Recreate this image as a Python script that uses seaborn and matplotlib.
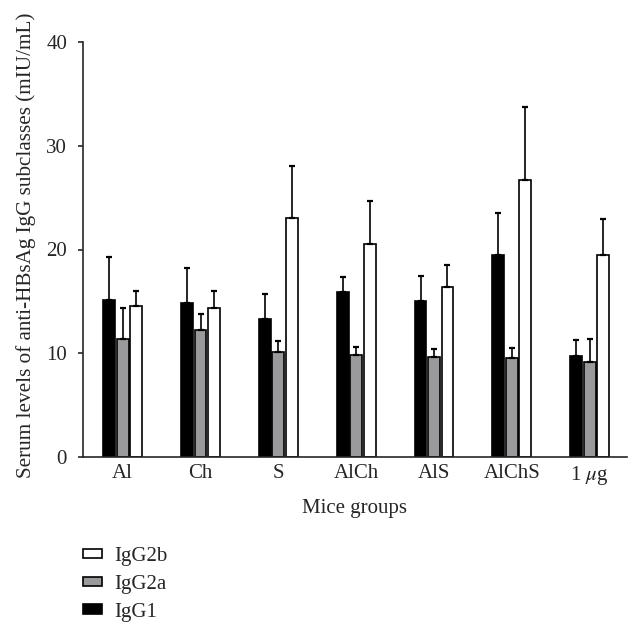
import numpy as np
import pandas as pd
import matplotlib
matplotlib.use("Agg")
import matplotlib.pyplot as plt
import seaborn as sns
from matplotlib.patches import Patch

# data (mean and upper error bar end)
groups = ["Al", "Ch", "S", "AlCh", "AlS", "AlChS", "1 $\\mu$g"]
subclasses = ["IgG1", "IgG2a", "IgG2b"]

igg1 = [15.1, 14.8, 13.3, 15.9, 15.0, 19.5, 9.7]
igg1_top = [19.3, 18.2, 15.7, 17.3, 17.4, 23.5, 11.3]
igg2a = [11.4, 12.2, 10.1, 9.8, 9.6, 9.5, 9.1]
igg2a_top = [14.4, 13.8, 11.2, 10.6, 10.4, 10.5, 11.4]
igg2b = [14.5, 14.4, 23.0, 20.5, 16.4, 26.7, 19.5]
igg2b_top = [16.0, 16.0, 28.1, 24.7, 18.5, 33.8, 22.9]

colors = {"IgG1": "#000000", "IgG2a": "#9a9a9c", "IgG2b": "#ffffff"}

rows = []
for vals, tops, name in [(igg1, igg1_top, "IgG1"), (igg2a, igg2a_top, "IgG2a"), (igg2b, igg2b_top, "IgG2b")]:
    for g, v, t in zip(groups, vals, tops):
        rows.append({"group": g, "subclass": name, "value": v, "top": t})
df = pd.DataFrame(rows)

sns.set_style("ticks")
plt.rcParams["font.family"] = ["Liberation Serif", "DejaVu Serif"]
plt.rcParams["mathtext.fontset"] = "stix"
fs = 15

fig = plt.figure(figsize=(6.42, 6.38), dpi=100)
ax = fig.add_axes([83 / 642, 1 - 456.7 / 638, (627 - 83) / 642, (456.7 - 42.3) / 638])

sns.barplot(data=df, x="group", y="value", hue="subclass", order=groups,
            hue_order=subclasses, palette=colors, errorbar=None,
            width=0.52, gap=0.12, edgecolor="black", linewidth=1.2,
            legend=False, ax=ax)

# upper error bars only
for container, name in zip(ax.containers, subclasses):
    sub = df[df["subclass"] == name].set_index("group").loc[groups]
    xs = [p.get_x() + p.get_width() / 2 for p in container.patches]
    err = (sub["top"] - sub["value"]).values
    ax.errorbar(xs, sub["value"].values, yerr=[np.zeros_like(err), err],
                fmt="none", ecolor="black", elinewidth=1.2, capsize=2,
                capthick=1.6, zorder=1)

ax.set_ylim(0, 40)
ax.set_yticks([0, 10, 20, 30, 40])
ax.set_xlim(-0.51, 6.48)
sns.despine(ax=ax)
ax.spines["left"].set_linewidth(1.2)
ax.spines["bottom"].set_linewidth(1.2)
ax.tick_params(axis="x", length=0, labelsize=fs, pad=5)
ax.tick_params(axis="y", length=3.5, width=1.2, labelsize=fs, pad=8)
ax.set_xlabel("Mice groups", fontsize=fs, labelpad=9)
ax.set_ylabel("Serum levels of anti-HBsAg IgG subclasses (mIU/mL)", fontsize=15.2)
ax.yaxis.set_label_coords((36 - 83) / 544, 0.511)

handles = [Patch(facecolor=colors[s], edgecolor="black", linewidth=1.2, label=s)
           for s in ["IgG2b", "IgG2a", "IgG1"]]
fig.legend(handles=handles, loc="upper left", bbox_to_anchor=(83 / 642, 1 - 547 / 638),
           frameon=False, fontsize=fs, handlelength=0.9, handleheight=0.32,
           labelspacing=0.42, handletextpad=0.6, borderpad=0, borderaxespad=0)

fig.savefig("out.png", dpi=100)
